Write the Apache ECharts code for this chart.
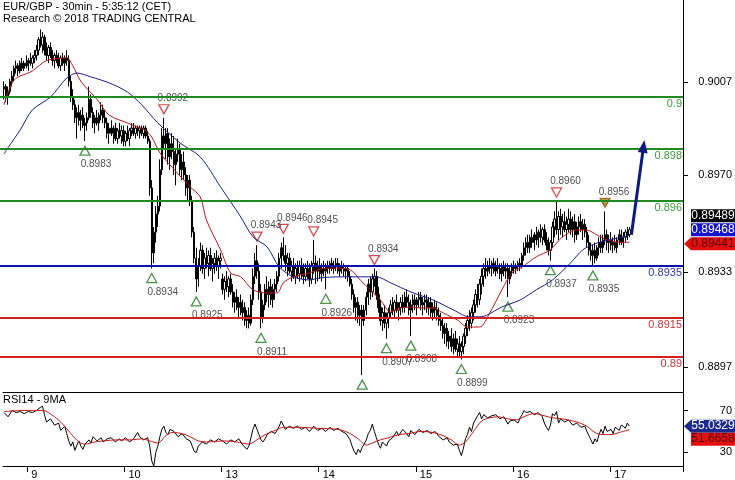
<!DOCTYPE html>
<html><head><meta charset="utf-8">
<script src="https://cdn.jsdelivr.net/npm/echarts@6/dist/echarts.min.js"></script>
<style>html,body{margin:0;padding:0;background:#fff}#c{width:735px;height:480px}</style>
</head><body><div id="c"></div>
<script>
// ---------------- DATA ----------------
const titleLines = ['EUR/GBP - 30min - 5:35:12 (CET)', 'Research \u00A9 2018 TRADING CENTRAL'];
const rsiTitle = 'RSI14 - 9MA';
const PRICE_BASE = 0.89, PIP = 0.0001;   // prices stored in pips above 0.8900
const N_SLOTS = 336;                      // 30-min slots on the time axis
const dayStarts = [12, 60, 108, 156, 204, 252, 300];
const dayLabels = ['9', '10', '13', '14', '15', '16', '17'];
const priceRange = [0.88865, 0.90373];
const priceTickValues = [0.88962, 0.89327, 0.89700, 0.90058];
const priceTickLabels = ['0.8897', '0.8933', '0.8970', '0.9007'];
const rsiRange = [17.1, 87.6];
const rsiTicks = [30, 70];

// [open, high, low, close] in pips
const ohlc = [
[103,106,99,104],[104,105,98,100],[100,104,97,102],[102,107,101,106],[106,110,104,108],[108,112,106,111],
[111,114,109,112],[112,113,108,110],[110,114,109,113],[113,115,110,111],[111,114,110,113],[113,116,111,112],
[112,115,110,114],[114,117,112,113],[113,116,111,115],[115,118,113,116],[116,120,114,118],[118,123,116,122],
[122,126,119,120],[120,125,117,123],[123,124,116,118],[118,121,114,116],[116,120,113,119],[119,121,115,116],
[116,118,112,114],[114,117,111,116],[116,118,113,115],[115,117,111,112],[112,116,110,115],[115,117,112,113],
[113,116,110,115],[115,118,112,114],[114,116,104,106],[106,108,98,100],[100,103,95,97],[97,99,90,92],
[92,96,84,94],[94,97,89,91],[91,95,87,93],[93,96,88,89],[89,92,83,90],[90,94,87,92],
[92,104,91,99],[99,101,92,94],[94,96,88,90],[90,93,86,92],[92,95,89,90],[90,94,87,93],
[93,98,91,95],[95,97,90,92],[92,95,88,90],[90,92,84,86],[86,90,82,88],[88,91,85,86],
[86,89,82,88],[88,90,83,84],[84,88,82,87],[87,90,84,85],[85,89,82,87],[87,89,81,83],
[83,87,81,86],[86,89,83,84],[84,88,81,87],[87,90,85,88],[88,90,85,86],[86,89,84,88],
[88,89,85,87],[87,89,84,88],[88,89,85,86],[86,89,84,88],[88,89,84,85],[85,87,82,83],
[83,84,62,65],[65,68,34,40],[40,50,36,48],[48,58,44,55],[55,62,50,58],[58,76,56,72],
[72,88,70,85],[85,92,80,82],[82,88,76,86],[86,88,74,77],[77,84,72,82],[82,86,76,79],
[79,85,70,74],[74,80,66,78],[78,84,75,80],[80,82,70,72],[72,78,68,75],[75,79,68,70],
[70,73,62,65],[65,70,60,68],[68,70,58,60],[60,62,46,48],[48,50,36,38],[38,42,25,30],
[30,38,27,35],[35,44,33,41],[41,43,32,34],[34,40,30,38],[38,42,34,36],[36,41,31,39],
[39,42,33,34],[34,38,29,36],[36,40,32,38],[38,41,33,35],[35,39,30,37],[37,40,34,38],
[30,32,24,26],[26,31,22,29],[29,33,25,27],[27,31,23,30],[30,32,24,25],[25,28,19,21],
[21,25,17,23],[23,26,18,19],[19,23,15,21],[21,24,16,17],[17,22,14,19],[19,21,12,14],
[14,18,11,16],[16,19,11,13],[13,24,12,22],[22,34,20,31],[31,40,28,37],[37,43,30,33],
[33,36,22,25],[25,28,11,15],[15,22,13,20],[20,28,18,26],[26,31,21,24],[24,29,19,27],
[27,30,20,22],[22,28,19,26],[26,30,22,28],[28,33,25,31],[31,40,29,38],[38,44,34,42],
[42,46,37,39],[39,43,33,36],[36,40,31,38],[38,40,32,33],[33,37,29,35],[35,38,30,31],
[31,36,28,34],[34,37,30,32],[32,37,29,35],[35,38,30,33],[33,36,28,31],[31,36,29,34],
[34,37,30,33],[33,36,27,30],[30,37,28,35],[35,45,32,36],[36,39,28,33],[33,37,29,35],
[35,38,30,32],[32,36,29,34],[34,37,31,33],[33,36,26,35],[35,37,32,34],[34,37,32,36],
[36,38,33,34],[34,37,32,35],[35,38,33,36],[36,38,32,33],[33,36,31,35],[35,37,32,34],
[34,36,31,33],[33,35,30,34],[34,35,29,31],[31,33,27,28],[28,30,22,24],[24,26,17,19],
[19,23,14,21],[21,23,13,16],[16,20,12,18],[18,20,-7,14],[14,20,12,18],[18,25,16,23],
[23,30,20,28],[28,31,22,25],[25,32,23,30],[30,34,27,31],[31,33,22,24],[24,27,17,19],
[19,22,12,14],[14,19,10,17],[17,20,11,13],[13,17,7,15],[15,19,11,17],[17,22,15,20],
[20,23,16,18],[18,22,15,21],[21,24,17,18],[18,21,14,19],[19,23,16,21],[21,24,17,19],
[19,25,17,23],[23,26,19,21],[21,24,16,18],[18,22,8,20],[20,24,17,22],[22,24,18,20],
[20,23,16,22],[22,25,19,23],[23,25,18,20],[20,23,16,21],[21,24,18,22],[22,24,17,19],
[19,23,16,21],[21,23,15,17],[17,21,14,19],[19,22,15,18],[18,21,14,16],[16,19,12,14],
[14,17,10,12],[12,15,7,9],[9,13,5,11],[11,13,4,6],[6,10,3,8],[8,11,2,4],
[4,9,1,7],[7,10,2,3],[3,7,0,5],[5,8,0,2],[2,6,-1,4],[4,9,1,8],
[8,13,5,11],[11,16,8,14],[14,18,10,13],[13,19,11,17],[17,22,14,20],[20,26,17,24],
[24,28,19,22],[22,30,20,28],[28,34,24,31],[31,36,27,34],[34,38,30,33],[33,37,31,35],
[35,38,32,34],[34,37,31,36],[36,38,32,33],[33,37,31,35],[35,38,32,34],[34,36,30,32],
[32,36,29,35],[35,37,31,33],[33,36,30,34],[34,36,23,30],[30,35,28,33],[33,36,31,35],
[35,37,32,34],[34,36,32,35],[35,37,33,36],[36,38,33,35],[35,40,34,39],[39,44,37,42],
[42,46,39,44],[44,47,40,42],[42,47,40,46],[46,49,42,44],[44,48,41,47],[47,50,43,45],
[45,49,42,48],[48,51,44,46],[46,50,43,49],[49,51,44,45],[45,48,41,43],[43,46,39,41],
[41,45,37,44],[44,52,42,50],[50,56,46,53],[53,60,47,49],[49,56,45,54],[54,57,47,50],
[50,55,46,52],[52,56,48,49],[49,54,45,51],[51,57,48,53],[53,56,47,49],[49,54,46,52],
[52,55,44,47],[47,52,45,50],[50,54,47,52],[52,55,48,49],[49,53,45,51],[51,53,46,48],
[48,50,42,44],[44,47,39,41],[41,44,37,39],[39,43,35,41],[41,44,36,38],[38,43,37,42],
[42,46,39,44],[44,47,40,42],[42,47,40,45],[45,56,43,47],[47,49,41,44],[44,47,40,45],
[45,48,41,43],[43,46,40,44],[44,47,41,42],[42,46,40,45],[45,49,43,47],[47,49,43,44],
[44,48,42,46],[46,49,44,48],[48,50,45,47],[47,50,46,48.9]
];

// moving averages: [slot, pips]
const maFast = [[0,97],[5,106.5],[14,110],[21,114],[31,115],[34,112],[38,106],[46,99],[52,93],[61,90],[70,87],
[73,84.6],[77,78.5],[83,73],[92,65.4],[97,61.5],[100,52.7],[107,41.2],[112,32.3],[117,30.8],[123,25.8],[130,24.6],
[135,24.6],[138,28.5],[143,30.8],[151,32.3],[155,33.5],[162,34.2],[171,33.5],[176,29.6],[181,25.8],[186,21.9],
[191,17.3],[196,18.8],[201,19.2],[207,18.8],[212,18.8],[217,16.9],[224,14.2],[229,11.5],[235,11.5],[240,16.9],
[246,25.8],[251,32.3],[256,34.6],[263,38.5],[270,41.2],[276,46.2],[283,48.8],[288,48.8],[293,46.9],[298,45],
[303,44.2],[309,44.1]];
const maSlow = [[0,78],[2,80.5],[8,87.3],[14,95],[23,100],[31,107.3],[36,109.2],[43,107.7],[52,105.4],[61,101.9],
[68,97],[76,90],[87,82.3],[97,76.9],[107,65.4],[117,53.8],[123,46.2],[130,42.3],[136,34.6],[143,30.8],[151,29.6],
[156,30.4],[166,30.8],[176,30.8],[184,30.8],[191,28.5],[201,25],[212,21.9],[222,18.1],[230,15.4],[236,15.5],
[246,19.2],[255,21.9],[263,25.8],[271,29.6],[280,36.2],[286,41.2],[293,43.8],[299,45],[309,46.8]];

// support / resistance levels (pips) and their labels
const levels = [100, 80, 60, 35, 15, 0];
const levelLabels = ['0.9', '0.898', '0.896', '0.8935', '0.8915', '0.89'];
const levelKinds = ['g', 'g', 'g', 'b', 'r', 'r'];

// swing markers [slot, pips]
const lowMarks = [[40,83],[73,34],[95,25],[127,11],[159,26],[177,-7],[189,7],[201,8],[226,-1],[249,23],[270,37],[291,35]];
const lowLabelHidden = [177];
const highMarks = [[79,92],[125,43],[138,46],[153,45],[183,34],[273,60]];
const lastHighMark = [[297,56]];

// forecast arrow [slot, pips]
const forecast = [[310,47],[316,81]];

// last values shown on the price axis
const priceBoxValues = [0.89489, 0.89468, 0.89441];

// RSI14 and its 9MA: [slot, value]
const rsi = [[0,68],[2,64],[4,70],[6,68],[8,69],[10,67],[12,69],[14,68],[16,70],[18,73],[19,74],[20,66],[21,59],
[23,62],[25,56],[27,58],[28,51],[30,55],[31,48],[32,41],[33,36],[34,40],[35,32],[36,37],[37,41],[38,36],[39,33],
[40,38],[42,42],[43,39],[44,45],[46,41],[48,44],[49,40],[51,43],[53,44],[55,40],[57,43],[58,41],[60,44],[62,40],
[64,43],[66,49],[67,45],[69,42],[71,44],[72,36],[73,22],[74,17],[75,30],[76,36],[77,45],[78,52],[79,55],[80,49],
[81,47],[82,52],[84,50],[86,45],[88,48],[90,43],[92,41],[93,36],[94,31],[95,30],[96,36],[98,40],[100,38],[102,42],
[104,40],[106,43],[108,41],[110,38],[112,42],[114,40],[116,43],[118,37],[120,33],[121,36],[122,44],[123,52],
[124,57],[125,52],[126,47],[127,42],[128,40],[129,43],[130,47],[132,50],[134,48],[136,55],[137,60],[138,56],
[139,52],[141,55],[143,53],[145,55],[147,52],[149,54],[151,50],[153,55],[155,51],[157,53],[159,50],[161,54],
[163,51],[165,53],[167,50],[169,48],[171,42],[172,36],[173,31],[174,28],[175,33],[176,30],[177,35],[178,38],
[179,42],[180,48],[181,51],[182,57],[183,50],[184,44],[185,38],[186,34],[187,40],[189,36],[190,41],[192,44],
[194,50],[195,46],[197,52],[199,48],[200,45],[201,51],[203,47],[205,52],[207,49],[209,51],[211,48],[213,50],
[215,45],[217,42],[219,44],[220,40],[222,37],[224,38],[225,32],[226,27],[227,34],[228,43],[229,47],[230,54],
[231,50],[232,58],[234,65],[235,68],[236,62],[237,66],[239,63],[241,65],[243,66],[245,62],[247,64],[249,57],
[250,60],[252,61],[254,58],[255,63],[256,66],[257,70],[258,68],[260,69],[262,66],[264,68],[266,64],[267,58],
[268,54],[269,51],[270,56],[271,67],[272,65],[273,69],[274,58],[275,62],[277,59],[279,61],[281,56],[283,58],
[285,54],[287,55],[288,50],[289,46],[290,42],[291,38],[292,43],[293,40],[294,47],[295,52],[296,48],[297,55],
[298,50],[300,52],[301,48],[302,54],[304,51],[305,56],[306,55],[307,53],[308,58],[309,55.03]];
const rsiMa = [[0,69],[10,70],[19,70],[25,64],[29,57],[33,48],[37,40],[40,38],[45,40],[49,41],[56,42],[63,42],
[68,43],[72,41],[76,39],[80,46],[83,49],[88,48],[92,45],[96,41],[100,40],[109,41],[115,40],[121,38],[125,42],
[129,47],[134,51],[138,54],[146,54],[155,53],[165,52],[170,49],[175,43],[179,37],[182,39],[186,42],[190,44],
[195,47],[200,48],[206,50],[212,49],[217,46],[221,42],[225,37],[228,40],[232,50],[236,60],[240,63],[244,64],
[249,62],[253,61],[258,65],[262,67],[267,65],[271,63],[276,62],[283,59],[288,55],[292,49],[296,47],[300,47],
[304,49],[309,51.7]];
const rsiBoxValues = [55.0329, 51.6658];

// ---------------- BUILD ----------------
const P = p => +(PRICE_BASE + p * PIP).toFixed(6);
const FONT = '"Liberation Sans", Arial, sans-serif';
const categories = Array.from({length: N_SLOTS}, (_, i) => {
  const k = dayStarts.indexOf(i); return k >= 0 ? dayLabels[k] : '';
});
const isDay = (i) => dayStarts.indexOf(i) >= 0;
const lineCol = {g: '#1f8a1f', b: '#0a12b0', r: '#d42020'};
const labCol = {g: '#3c9c3c', b: '#3434a8', r: '#c83434'};

const chart = echarts.init(document.getElementById('c'), null, {renderer: 'canvas'});

const levelLines = levels.map((v, k) => [
  {coord: [0, P(v)], x: 0, symbol: 'none',
   lineStyle: {color: lineCol[levelKinds[k]], width: 2, type: 'solid'},
   label: {show: true, formatter: levelLabels[k], position: 'insideEndBottom', distance: [1, 2],
           color: labCol[levelKinds[k]], fontSize: 11, fontFamily: FONT}},
  {coord: [N_SLOTS - 1, P(v)], x: 683, symbol: 'none'}
]);
const arrowLine = [
  {coord: [forecast[0][0], P(forecast[0][1])], symbol: 'none',
   lineStyle: {color: '#0c1a7e', width: 3, type: 'solid'}, label: {show: false}},
  {coord: [forecast[1][0], P(forecast[1][1])], symbol: 'triangle', symbolSize: [10, 13]}
];

const downTri = 'path://M0,0 L10,0 L5,9 Z';
const markLabel = (dx, dy) => ({show: true, position: 'inside', offset: [dx, dy],
  formatter: p => p.value[1].toFixed(4), color: '#222', fontSize: 10, fontFamily: FONT});

const option = {
  animation: false,
  backgroundColor: '#fff',
  grid: [
    {left: 3, right: 52, top: 0, height: 392},
    {left: 3, right: 52, top: 392, height: 75}
  ],
  xAxis: [
    {type: 'category', gridIndex: 0, data: categories, boundaryGap: true,
     axisLine: {show: true, lineStyle: {color: '#000', width: 1}}, axisTick: {show: false},
     axisLabel: {show: false}, splitLine: {show: false}},
    {type: 'category', gridIndex: 1, data: categories, boundaryGap: true,
     axisLine: {show: true, lineStyle: {color: '#000', width: 1}},
     axisTick: {show: true, interval: (i) => isDay(i), length: 6, lineStyle: {color: '#000'}},
     axisLabel: {show: true, interval: (i) => isDay(i), align: 'left', margin: 3, padding: [0, 0, 0, 3],
                 color: '#000', fontSize: 11, fontFamily: FONT},
     splitLine: {show: false}}
  ],
  yAxis: [
    {type: 'value', gridIndex: 0, position: 'right', min: priceRange[0], max: priceRange[1],
     axisLine: {show: true, lineStyle: {color: '#000', width: 1}},
     axisTick: {show: true, customValues: priceTickValues, length: 5, lineStyle: {color: '#000'}},
     axisLabel: {show: true, customValues: priceTickValues, align: 'right', margin: 49,
                 formatter: (v) => {
                   let best = 0; priceTickValues.forEach((t, k) => { if (Math.abs(t - v) < Math.abs(priceTickValues[best] - v)) best = k; });
                   return priceTickLabels[best];
                 }, color: '#000', fontSize: 11, fontFamily: FONT},
     splitLine: {show: false}},
    {type: 'value', gridIndex: 1, position: 'right', min: rsiRange[0], max: rsiRange[1],
     axisLine: {show: true, lineStyle: {color: '#000', width: 1}},
     axisTick: {show: true, customValues: rsiTicks, length: 5, lineStyle: {color: '#000'}},
     axisLabel: {show: true, customValues: rsiTicks, align: 'right', margin: 49,
                 color: '#000', fontSize: 11, fontFamily: FONT},
     splitLine: {show: false}}
  ],
  series: [
    {type: 'candlestick', xAxisIndex: 0, yAxisIndex: 0, barWidth: 1.9,
     data: ohlc.map(([o, h, l, c]) => [P(o), P(c), P(l), P(h)]),
     itemStyle: {color: '#fff', color0: '#000', borderColor: '#000', borderColor0: '#000', borderWidth: 1}},
    {type: 'line', name: 'levels', xAxisIndex: 0, yAxisIndex: 0, data: [],
     markLine: {silent: true, animation: false, symbol: 'none', data: levelLines}},
    {type: 'line', name: 'fast', xAxisIndex: 0, yAxisIndex: 0, showSymbol: false, smooth: 0.3,
     data: maFast.map(([i, p]) => [i, P(p)]), lineStyle: {color: '#b81818', width: 1}},
    {type: 'line', name: 'slow', xAxisIndex: 0, yAxisIndex: 0, showSymbol: false, smooth: 0.3,
     data: maSlow.map(([i, p]) => [i, P(p)]), lineStyle: {color: '#1c1c8c', width: 1}},
    {type: 'line', name: 'forecast', xAxisIndex: 0, yAxisIndex: 0, data: [],
     markLine: {silent: true, animation: false, data: [arrowLine]}},
    {type: 'scatter', xAxisIndex: 0, yAxisIndex: 0, symbol: 'triangle', symbolSize: [10, 9], symbolOffset: [0, 9.5],
     itemStyle: {color: '#fff', borderColor: '#1e7b1e', borderWidth: 1.3},
     label: markLabel(11, 14),
     data: lowMarks.map(([i, p]) => ({value: [i, P(p)], label: {show: lowLabelHidden.indexOf(i) < 0}}))},
    {type: 'scatter', xAxisIndex: 0, yAxisIndex: 0, symbol: downTri, symbolSize: [10, 9], symbolOffset: [0, -8.5],
     itemStyle: {color: '#fff', borderColor: '#c82020', borderWidth: 1.3},
     label: markLabel(9, -11),
     data: highMarks.map(([i, p]) => [i, P(p)])},
    {type: 'scatter', xAxisIndex: 0, yAxisIndex: 0, symbol: downTri, symbolSize: [10, 9], symbolOffset: [0, -8.5],
     itemStyle: {color: '#b07a1c', borderColor: '#8a5a10', borderWidth: 1.3},
     label: markLabel(9, -11),
     data: lastHighMark.map(([i, p]) => [i, P(p)])},
    {type: 'line', name: 'rsi', xAxisIndex: 1, yAxisIndex: 1, showSymbol: false,
     data: rsi, lineStyle: {color: '#000', width: 1}},
    {type: 'line', name: 'rsiMa', xAxisIndex: 1, yAxisIndex: 1, showSymbol: false, smooth: 0.3,
     data: rsiMa, lineStyle: {color: '#c01818', width: 1}}
  ]
};
chart.setOption(option);

// value boxes on the right-hand axes, placed through the axis scales
function box(yc, text, fill, textFill, pointer) {
  const els = [
    {type: 'rect', shape: {x: 691, y: yc - 6.5, width: 44, height: 13}, style: {fill: fill}, z: 100},
    {type: 'text', x: 713, y: yc, z: 101, style: {text: text, fill: textFill, fontSize: 12, fontFamily: FONT,
      align: 'center', verticalAlign: 'middle'}}
  ];
  if (pointer) els.push({type: 'polygon', z: 100, shape: {points: [[684, yc], [691, yc - 6.5], [691, yc + 6.5]]}, style: {fill: fill}});
  return els;
}
const py = v => chart.convertToPixel({yAxisIndex: 0}, v);
const ry = v => chart.convertToPixel({yAxisIndex: 1}, v);
const yRed = py(priceBoxValues[2]) + 1.5;
const yBlue = Math.min(py(priceBoxValues[1]), yRed - 14);
const yBlack = Math.min(py(priceBoxValues[0]), yBlue - 14);
const yR1 = ry(rsiBoxValues[0]);
const yR2 = Math.max(ry(rsiBoxValues[1]), yR1 + 13);

chart.setOption({graphic: [
  {type: 'text', left: 3, top: 1, z: 100, style: {text: titleLines.join('\n'), fill: '#000', fontSize: 11,
    fontFamily: FONT, lineHeight: 12}},
  {type: 'text', left: 3, top: 394, z: 100, style: {text: rsiTitle, fill: '#000', fontSize: 11, fontFamily: FONT}},
  ...box(yBlack, priceBoxValues[0].toFixed(5), '#000', '#fff', false),
  ...box(yBlue, priceBoxValues[1].toFixed(5), '#1414d0', '#fff', false),
  ...box(yRed, priceBoxValues[2].toFixed(5), '#e41010', '#5a0000', true),
  ...box(yR1, rsiBoxValues[0].toFixed(4), '#1c2a8c', '#fff', true),
  ...box(yR2, rsiBoxValues[1].toFixed(4), '#e41010', '#5a0000', false)
]});
</script></body></html>
